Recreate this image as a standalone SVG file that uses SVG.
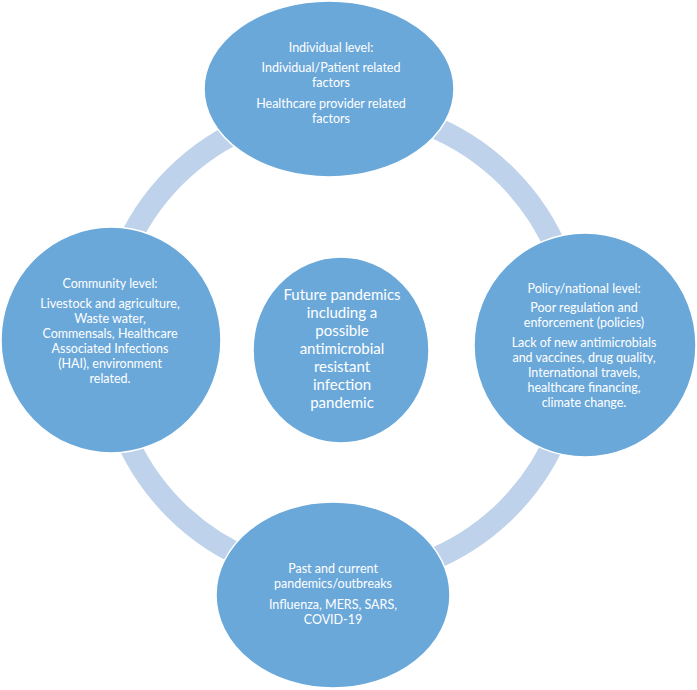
<svg xmlns="http://www.w3.org/2000/svg" width="697" height="690" viewBox="0 0 697 690">
<style>
.node{fill:#6BA8DA;stroke:#FFFFFF;stroke-width:1.5}
.ring{fill:none;stroke:#BFD2EB;stroke-width:22}
text{font-family:Lato,"Liberation Sans",sans-serif;fill:#FFFFFF;text-anchor:middle;font-size:12.5px}
.big{font-size:15px}
</style>
<rect width="697" height="690" fill="#FFFFFF"/>
<g id="connectors">
<circle class="ring" cx="341" cy="343" r="235"/>
</g>
<g id="individual">
<ellipse class="node" cx="329" cy="89" rx="125" ry="88"/>
<text x="331" y="51.5">Individual level:</text>
<text x="331" y="72">Individual/Patient related</text>
<text x="331" y="87">factors</text>
<text x="331" y="107.5">Healthcare provider related</text>
<text x="331" y="122.5">factors</text>
</g>
<g id="community">
<ellipse class="node" cx="111" cy="340" rx="110" ry="113"/>
<text x="110" y="288">Community level:</text>
<text x="110" y="308">Livestock and agriculture,</text>
<text x="110" y="323">Waste water,</text>
<text x="110" y="338">Commensals, Healthcare</text>
<text x="110" y="353">Associated Infections</text>
<text x="110" y="368">(HAI), environment</text>
<text x="110" y="383">related.</text>
</g>
<g id="policy">
<ellipse class="node" cx="585" cy="345" rx="111" ry="112"/>
<text x="584" y="293">Policy/national level:</text>
<text x="584" y="312">Poor regulation and</text>
<text x="584" y="327">enforcement (policies)</text>
<text x="584" y="347">Lack of new antimicrobials</text>
<text x="584" y="362">and vaccines, drug quality,</text>
<text x="584" y="377">International travels,</text>
<text x="584" y="392">healthcare financing,</text>
<text x="584" y="407">climate change.</text>
</g>
<g id="past">
<ellipse class="node" cx="333" cy="595" rx="117" ry="93"/>
<text x="333" y="573">Past and current</text>
<text x="333" y="588">pandemics/outbreaks</text>
<text x="333" y="608.5">Influenza, MERS, SARS,</text>
<text x="333" y="623.5">COVID-19</text>
</g>
<g id="future">
<ellipse class="node" cx="341" cy="350" rx="88" ry="93"/>
<text class="big" x="342" y="300">Future pandemics</text>
<text class="big" x="342" y="318">including a</text>
<text class="big" x="342" y="336">possible</text>
<text class="big" x="342" y="354">antimicrobial</text>
<text class="big" x="342" y="372">resistant</text>
<text class="big" x="342" y="390">infection</text>
<text class="big" x="342" y="408">pandemic</text>
</g>
</svg>
